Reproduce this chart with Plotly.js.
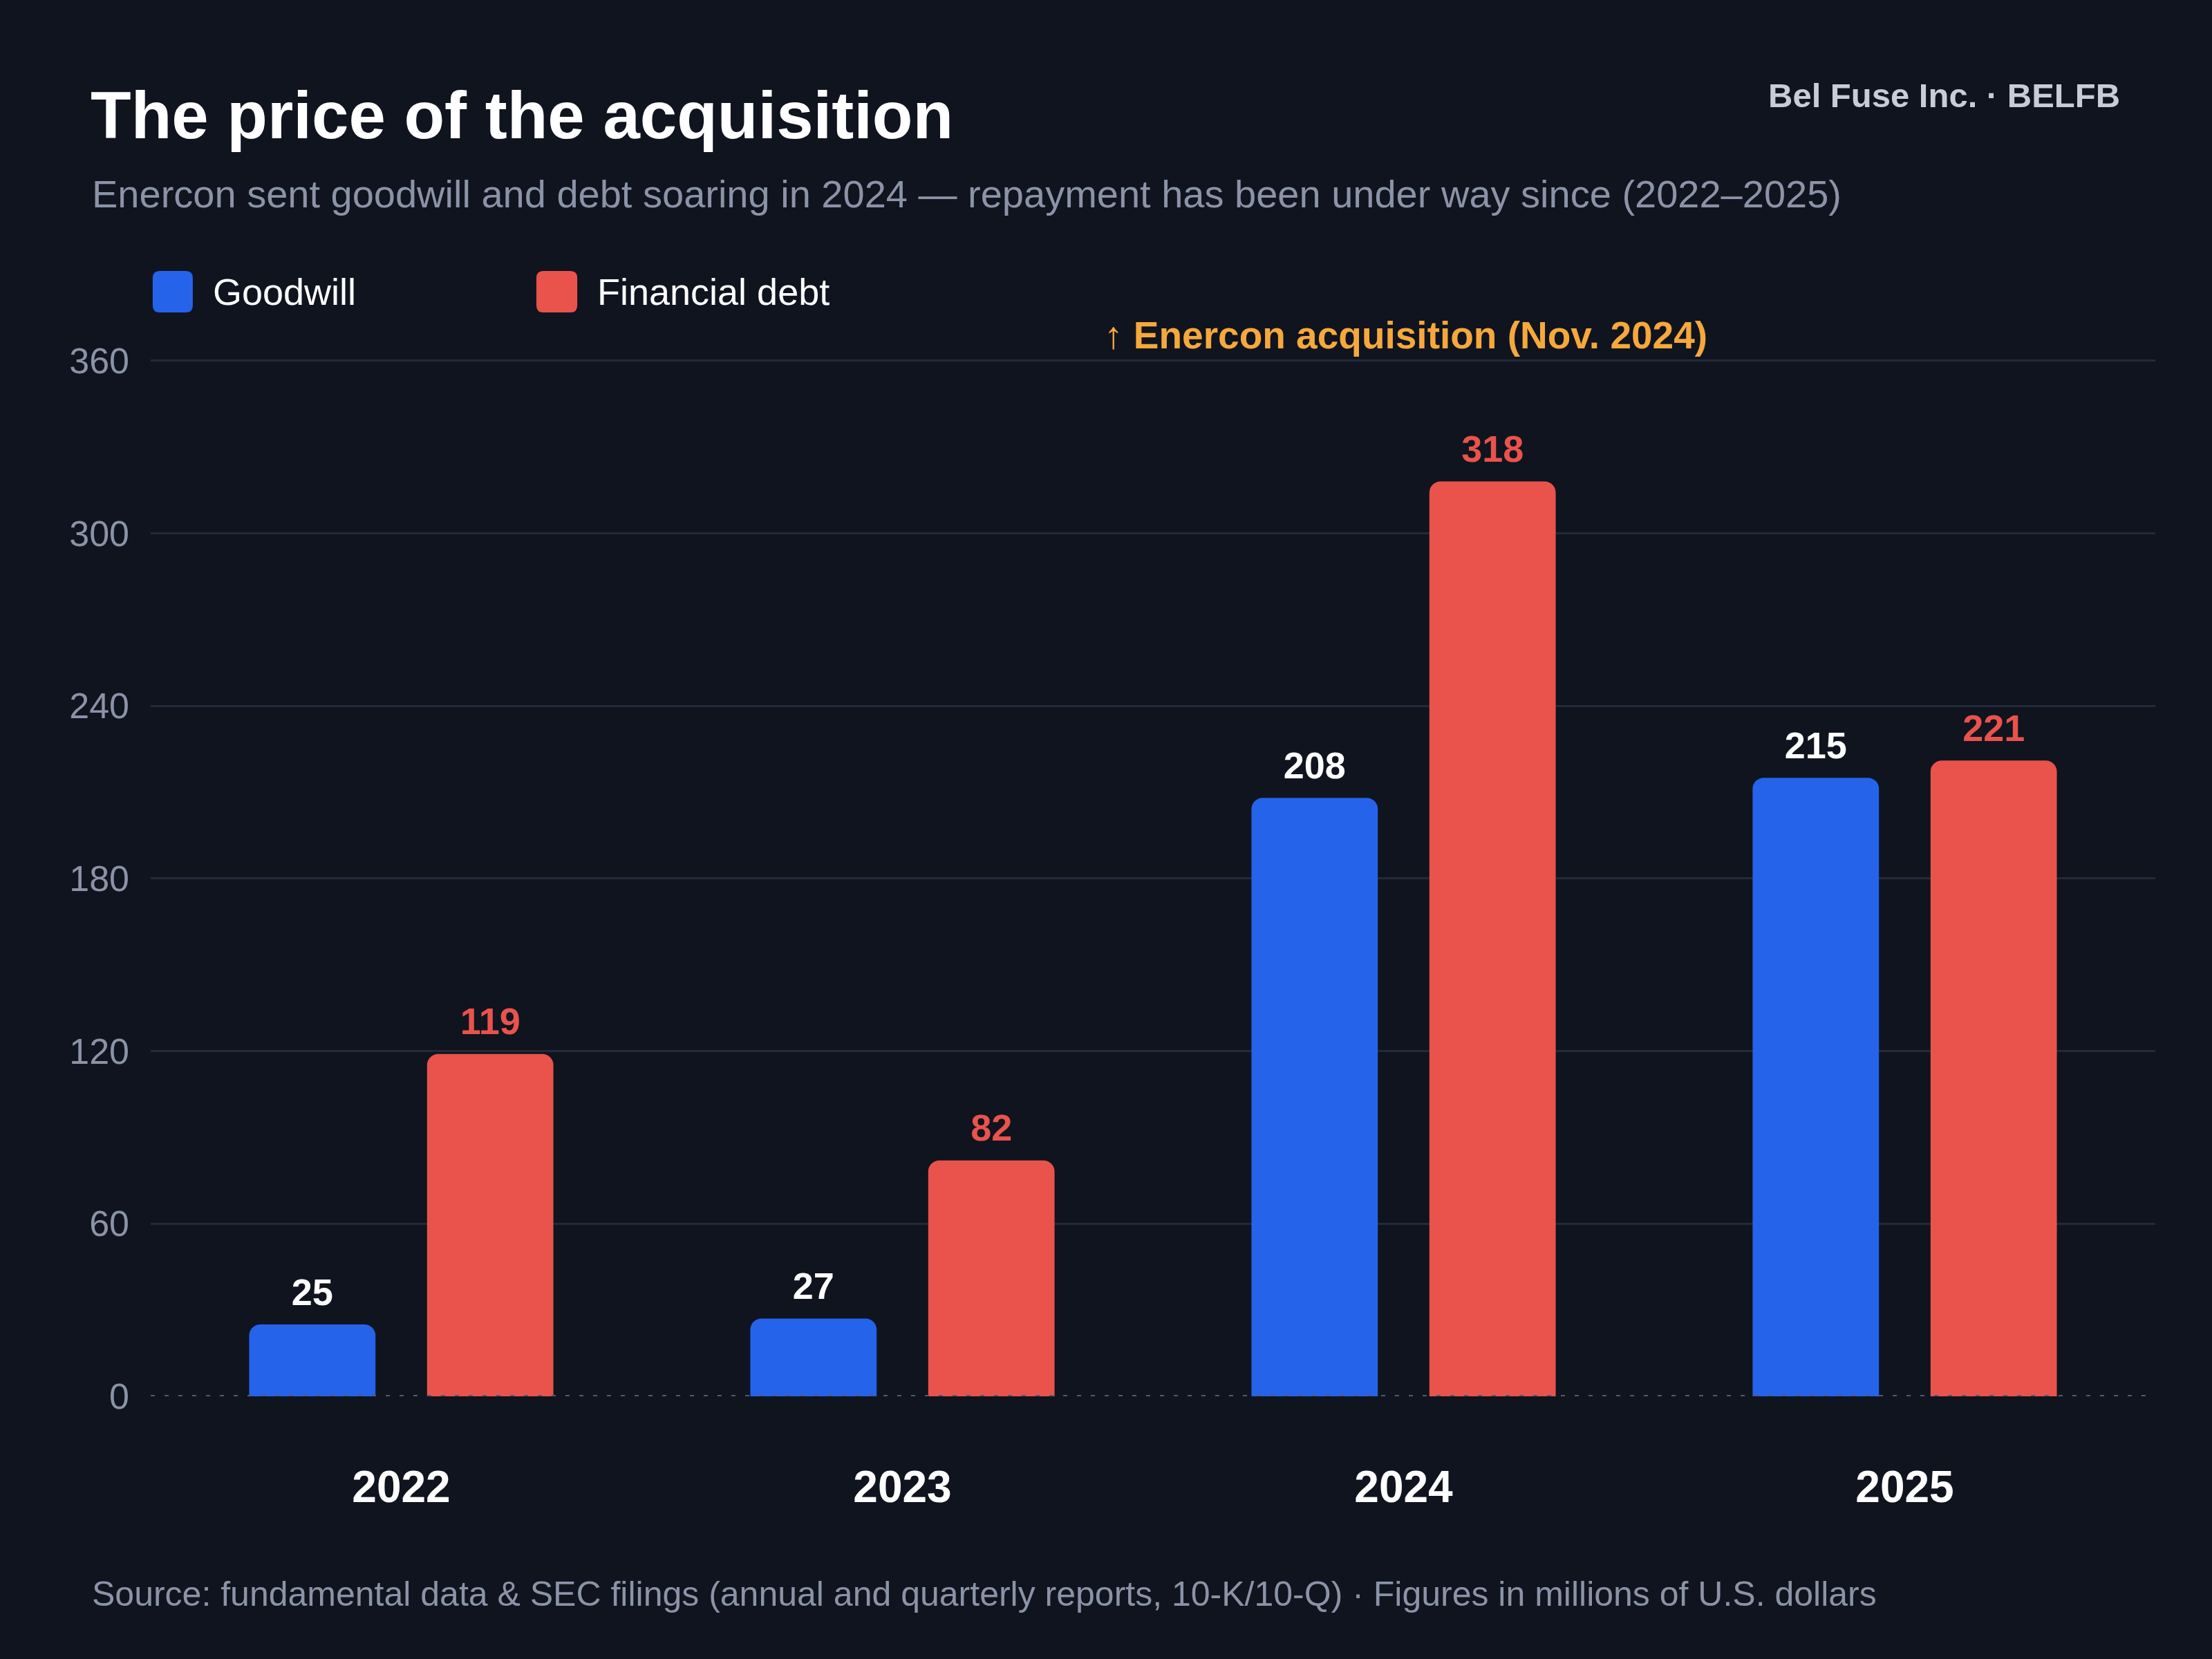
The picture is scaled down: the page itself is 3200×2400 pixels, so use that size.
<!DOCTYPE html>
<html>
<head>
<meta charset="utf-8">
<script src="https://cdn.plot.ly/plotly-3.0.1.min.js"></script>
<style>
  html, body { margin: 0; padding: 0; background: #10141f; }
  #chart { width: 3200px; height: 2400px; }
</style>
</head>
<body>
<div id="chart"></div>
<script>
// data, in millions of USD
const years = ['2022', '2023', '2024', '2025'];
const goodwill = [25, 27, 208, 215];
const financialDebt = [119, 82, 318, 221];
const seriesNames = ['Goodwill', 'Financial debt'];
const yTicks = [0, 60, 120, 180, 240, 300, 360];

const BG = '#10141f';
const BLUE = '#2563eb';
const RED = '#e9534c';
const GREY = '#8b93a7';
const FONT = 'Liberation Sans, Arial, Helvetica, sans-serif';

// rounded square in paper coords (plot area is 2900 x 1500 px)
function roundRect(x0, y0, x1, y1, rpx) {
  const rx = rpx / 2900, ry = rpx / 1500;
  return 'M' + (x0 + rx) + ',' + y0 +
    ' L' + (x1 - rx) + ',' + y0 + ' Q' + x1 + ',' + y0 + ' ' + x1 + ',' + (y0 + ry) +
    ' L' + x1 + ',' + (y1 - ry) + ' Q' + x1 + ',' + y1 + ' ' + (x1 - rx) + ',' + y1 +
    ' L' + (x0 + rx) + ',' + y1 + ' Q' + x0 + ',' + y1 + ' ' + x0 + ',' + (y1 - ry) +
    ' L' + x0 + ',' + (y0 + ry) + ' Q' + x0 + ',' + y0 + ' ' + (x0 + rx) + ',' + y0 + ' Z';
}

function barTrace(name, vals, color, group) {
  return {
    type: 'bar', name: name, x: years, y: vals, offsetgroup: group,
    marker: { color: color, cornerradius: 16 },
    hoverinfo: 'none'
  };
}

// value labels: invisible markers grouped like the bars so text floats a bit above
function labelTrace(vals, color, group) {
  return {
    type: 'scatter', mode: 'markers+text', x: years, y: vals, offsetgroup: group,
    text: vals.map(String), textposition: 'top center', cliponaxis: false,
    marker: { size: 22, color: 'rgba(0,0,0,0)' },
    textfont: { family: FONT, size: 54, color: color, weight: 700 },
    hoverinfo: 'none'
  };
}

const traces = [
  barTrace(seriesNames[0], goodwill, BLUE, 'g'),
  barTrace(seriesNames[1], financialDebt, RED, 'd'),
  labelTrace(goodwill, '#ffffff', 'g'),
  labelTrace(financialDebt, RED, 'd')
];

const layout = {
  width: 3200, height: 2400,
  paper_bgcolor: BG, plot_bgcolor: BG,
  font: { family: FONT, color: GREY },
  margin: { l: 218, r: 82, t: 520, b: 380 },
  showlegend: false,
  barmode: 'group', bargap: 0.29, bargroupgap: 0.29,
  scattermode: 'group', scattergap: 0.29,
  title: {
    text: 'The price of the acquisition',
    font: { family: FONT, size: 96, color: '#ffffff', weight: 700 },
    xref: 'container', yref: 'container',
    x: 131 / 3200, xanchor: 'left',
    y: 1 - 166 / 2400, yanchor: 'middle'
  },
  xaxis: {
    type: 'category', showgrid: false, zeroline: false, showline: false,
    ticks: '', ticklabelstandoff: 88,
    tickfont: { family: FONT, size: 64, color: '#ffffff', weight: 700 }
  },
  yaxis: {
    range: [0, 360.4], tickvals: yTicks, ticktext: yTicks.map(String),
    showgrid: true, gridcolor: '#232a39', gridwidth: 3,
    zeroline: true, zerolinecolor: BG, zerolinewidth: 3,
    showline: false, ticks: '', ticklabelstandoff: 30,
    tickfont: { family: FONT, size: 52, color: GREY }
  },
  shapes: [
    // dotted baseline
    { type: 'line', xref: 'paper', yref: 'y', x0: 0, x1: 0.9955, y0: 0, y1: 0,
      line: { color: '#525a6e', width: 4, dash: '6px,14px' }, layer: 'above' },
    // legend swatches
    { type: 'path', xref: 'paper', yref: 'paper', path: roundRect(0.001, 1.0453, 0.021, 1.0853, 10),
      fillcolor: BLUE, line: { width: 0 } },
    { type: 'path', xref: 'paper', yref: 'paper', path: roundRect(0.1924, 1.0453, 0.2128, 1.0853, 10),
      fillcolor: RED, line: { width: 0 } }
  ],
  annotations: [
    { text: 'Enercon sent goodwill and debt soaring in 2024 — repayment has been under way since (2022–2025)',
      xref: 'paper', yref: 'paper', x: -0.03, y: 1.16, xanchor: 'left', yanchor: 'middle',
      showarrow: false, font: { family: FONT, size: 56, color: GREY } },
    { text: '<b>Bel Fuse Inc. · BELFB</b>',
      xref: 'paper', yref: 'paper', x: 0.9831, y: 1.2547, xanchor: 'right', yanchor: 'middle',
      showarrow: false, font: { family: FONT, size: 49, color: '#c8ccd9' } },
    { text: seriesNames[0],
      xref: 'paper', yref: 'paper', x: 0.0303, y: 1.0653, xanchor: 'left', yanchor: 'middle',
      showarrow: false, font: { family: FONT, size: 54, color: '#ffffff' } },
    { text: seriesNames[1],
      xref: 'paper', yref: 'paper', x: 0.2221, y: 1.0653, xanchor: 'left', yanchor: 'middle',
      showarrow: false, font: { family: FONT, size: 54, color: '#ffffff' } },
    { text: '↑ <b>Enercon acquisition (Nov. 2024)</b>',
      xref: 'paper', yref: 'paper', x: 0.4748, y: 1.0233, xanchor: 'left', yanchor: 'middle',
      showarrow: false, font: { family: FONT, size: 55, color: '#f5a83b' } },
    { text: 'Source: fundamental data & SEC filings (annual and quarterly reports, 10-K/10-Q) · Figures in millions of U.S. dollars',
      xref: 'paper', yref: 'paper', x: -0.03, y: -0.1907, xanchor: 'left', yanchor: 'middle',
      showarrow: false, font: { family: FONT, size: 50, color: GREY } }
  ]
};

Plotly.newPlot('chart', traces, layout, { displayModeBar: false, staticPlot: true });
</script>
</body>
</html>
